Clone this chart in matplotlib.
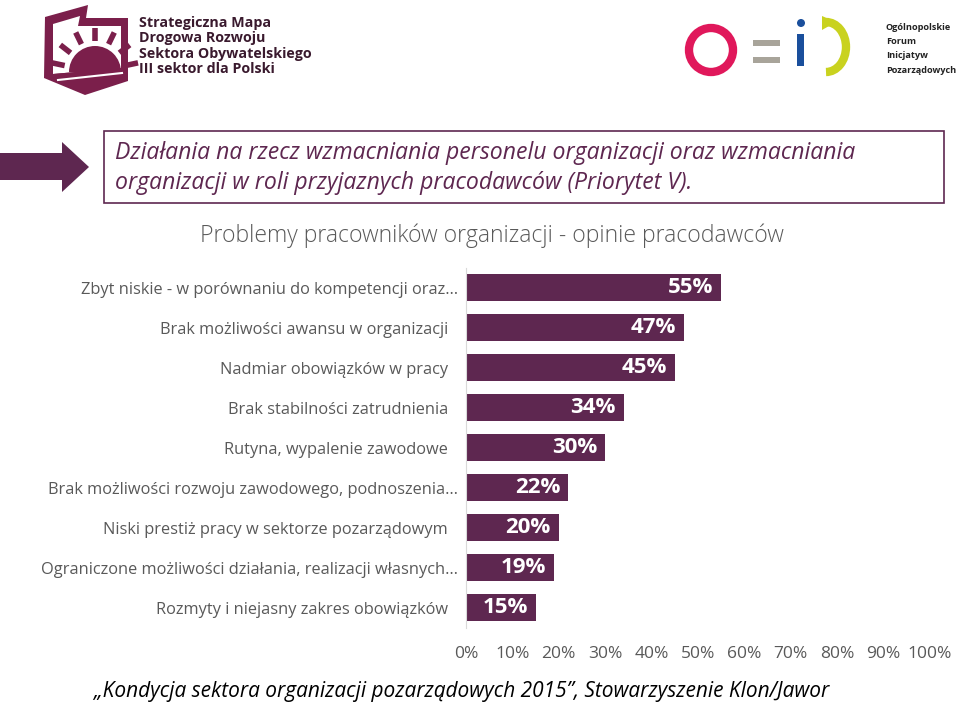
import matplotlib as mpl
mpl.use('Agg')

import matplotlib.pyplot as plt
from matplotlib.patches import Polygon, Rectangle, Circle, Wedge, Arc
from matplotlib.transforms import ScaledTranslation
import numpy as np

# data
categories = [
    "Zbyt niskie - w porównaniu do kompetencji oraz…",
    "Brak możliwości awansu w organizacji",
    "Nadmiar obowiązków w pracy",
    "Brak stabilności zatrudnienia",
    "Rutyna, wypalenie zawodowe",
    "Brak możliwości rozwoju zawodowego, podnoszenia…",
    "Niski prestiż pracy w sektorze pozarządowym",
    "Ograniczone możliwości działania, realizacji własnych…",
    "Rozmyty i niejasny zakres obowiązków",
]
values = [55, 47, 45, 34, 30, 22, 20, 19, 15]
xticks = [0, 10, 20, 30, 40, 50, 60, 70, 80, 90, 100]

PURPLE = "#5E2750"
LOGO = "#7B1F4B"
GREY = "#595959"
FONT = ["Open Sans", "DejaVu Sans"]

fig = plt.figure(figsize=(9.6, 7.03), dpi=100)

# overlay in pixel coordinates for decorations
deco = fig.add_axes([0, 0, 1, 1])
deco.set_xlim(0, 960)
deco.set_ylim(703, 0)
deco.axis('off')

# --- left logo (simplified) ---
shield = Polygon([(45, 17), (88, 5), (86, 18), (128, 18), (128, 81), (85, 95), (44, 78)],
                 closed=True, facecolor=LOGO, edgecolor="none")
deco.add_patch(shield)
inner = Polygon([(53, 24), (80, 16), (78, 26), (121, 26), (121, 68), (53, 74)],
                closed=True, facecolor="white", edgecolor="none")
deco.add_patch(inner)
deco.add_patch(Wedge((95, 72), 26, 180, 360, facecolor=LOGO, edgecolor="none"))
deco.add_patch(Polygon([(53, 74), (121, 68), (121, 72), (53, 78)], closed=True,
                       facecolor=LOGO, edgecolor="none"))
deco.plot([58, 122], [80, 73], color="white", lw=1.5)
for ang in [12, 38, 64, 90, 116, 142, 168]:
    a = np.radians(ang)
    deco.plot([95 + 31 * np.cos(a), 95 + 44 * np.cos(a)],
              [72 - 31 * np.sin(a), 72 - 44 * np.sin(a)],
              color=LOGO, lw=4, solid_capstyle='butt')
deco.text(139, 16, "Strategiczna Mapa\nDrogowa Rozwoju\nSektora Obywatelskiego\nIII sektor dla Polski",
          ha='left', va='top', fontsize=10.3, fontweight='bold', color="#3a1a2e",
          family=FONT, linespacing=1.12)

# --- right logo (simplified) ---
deco.add_patch(Circle((711, 50), 22, facecolor="none", edgecolor="#E0185B", lw=6))
deco.add_patch(Rectangle((753, 40), 27, 6, facecolor="#A8A49A", edgecolor="none"))
deco.add_patch(Rectangle((753, 57), 27, 6, facecolor="#A8A49A", edgecolor="none"))
deco.add_patch(Circle((801, 23), 4, facecolor="#1A4F9C", edgecolor="none"))
deco.add_patch(Rectangle((797, 34), 7, 32, facecolor="#1A4F9C", edgecolor="none"))
deco.add_patch(Arc((826, 47), 40, 50, theta1=-90, theta2=90, edgecolor="#C9D21F", lw=6))
deco.add_patch(Polygon([(822, 16), (836, 22), (822, 30)], closed=True,
                       facecolor="#C9D21F", edgecolor="none"))
deco.text(886, 23, "Ogólnopolskie\nForum\nInicjatyw\nPozarządowych",
          ha='left', va='top', fontsize=6.6, fontweight='bold', color="#222222",
          family=FONT, linespacing=1.75)

# --- arrow and boxed heading ---
arrow = Polygon([(0, 153), (62, 153), (62, 142), (89, 167), (62, 192), (62, 180), (0, 180)],
                closed=True, facecolor=PURPLE, edgecolor="none")
deco.add_patch(arrow)
deco.add_patch(Rectangle((104, 131), 840, 72, facecolor="white", edgecolor=PURPLE, lw=1.2))
deco.text(115, 153, "Działania na rzecz wzmacniania personelu organizacji oraz wzmacniania",
          ha='left', va='center', fontsize=16.6, style='italic', color=PURPLE, family=FONT)
deco.text(115, 183, "organizacji w roli przyjaznych pracodawców (Priorytet V).",
          ha='left', va='center', fontsize=16.6, style='italic', color=PURPLE, family=FONT)

# --- chart title ---
deco.text(492, 236, "Problemy pracowników organizacji - opinie pracodawców",
          ha='center', va='center', fontsize=16.6, color=GREY, family=FONT, fontweight='light')

# --- source ---
deco.text(462, 692, "\u201eKondycja sektora organizacji pozarządowych 2015\u201d, Stowarzyszenie Klon/Jawor",
          ha='center', va='center', fontsize=15.0, style='italic', color="black", family=FONT)

# --- bar chart ---
ax = fig.add_axes([466 / 960, 1 - 627.5 / 703, 464 / 960, 360 / 703])
y = np.arange(len(categories))
ax.barh(y, values, height=0.667, color=PURPLE)
ax.set_xlim(0, 100)
ax.set_ylim(len(categories) - 0.5, -0.5)
ax.set_yticks(y)
ax.set_yticklabels(categories, fontsize=11.8, color=GREY, family=FONT)
ax.set_xticks(xticks)
ax.set_xticklabels([f"{t}%" for t in xticks], fontsize=12.5, color=GREY, family=FONT)
ax.tick_params(axis='both', length=0)
ax.tick_params(axis='y', pad=13)
ax.tick_params(axis='x', pad=13)
for s in ['top', 'right', 'bottom']:
    ax.spines[s].set_visible(False)
ax.spines['left'].set_color("#D9D9D9")
ax.set_facecolor("none")

# truncated labels run a bit further right, as in the original
for lab in ax.get_yticklabels():
    if lab.get_text().endswith("…"):
        lab.set_transform(lab.get_transform() + ScaledTranslation(0.10, 0, fig.dpi_scale_trans))

for yi, v in zip(y, values):
    ax.text(v - 1.7, yi, f"{v}%", ha='right', va='center', color='white',
            fontsize=16, fontweight='bold', family=FONT)

plt.savefig("out.png", dpi=100)
plt.close()
